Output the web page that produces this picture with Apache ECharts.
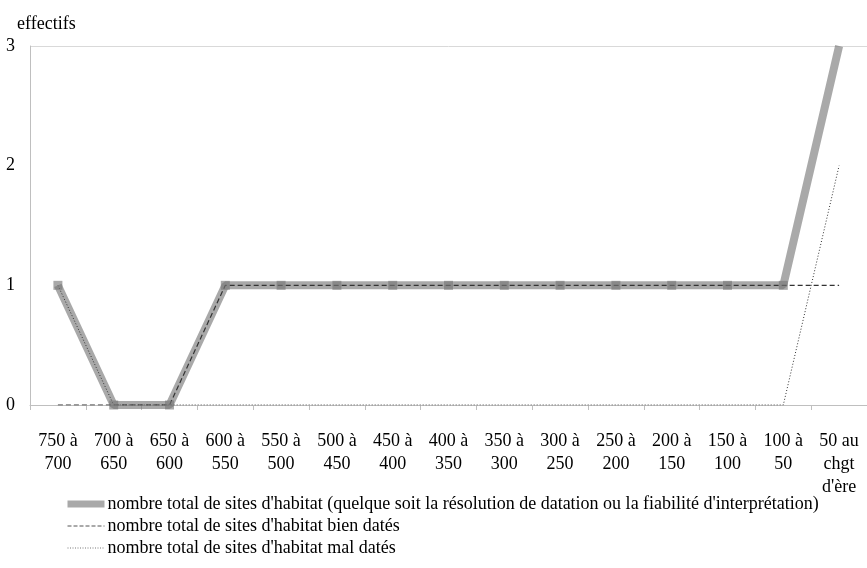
<!DOCTYPE html>
<html><head><meta charset="utf-8">
<script src="https://cdn.jsdelivr.net/npm/echarts@6/dist/echarts.min.js"></script>
<style>html,body{margin:0;padding:0;background:#fff}#c{width:867px;height:568px}</style>
</head><body><div id="c"></div>
<script>
const categories = ["750 à\n700","700 à\n650","650 à\n600","600 à\n550","550 à\n500","500 à\n450","450 à\n400","400 à\n350","350 à\n300","300 à\n250","250 à\n200","200 à\n150","150 à\n100","100 à\n50","50 au\nchgt\nd'ère"];
const totalSites = [1,0,0,1,1,1,1,1,1,1,1,1,1,1,3];
const bienDates = [0,0,0,1,1,1,1,1,1,1,1,1,1,1,1];
const malDates = [1,0,0,0,0,0,0,0,0,0,0,0,0,0,2];
const names = [
  "nombre total de sites d'habitat (quelque soit la résolution de datation ou la fiabilité d'interprétation)",
  "nombre total de sites d'habitat bien datés",
  "nombre total de sites d'habitat mal datés"
];
const font = "'Liberation Serif', 'Times New Roman', serif";
const grey = 'rgba(120,120,120,0.64)';
const chart = echarts.init(document.getElementById('c'), null, {renderer:'canvas'});
chart.setOption({
  animation:false,
  textStyle:{fontFamily:font, color:'#000'},
  grid:{left:30, top:46, width:846, height:359, containLabel:false},
  title:{text:'effectifs', left:12, top:10, textStyle:{fontFamily:font, fontSize:18, fontWeight:'normal', color:'#000'}},
  legend:{
    orient:'vertical', left:59, top:490, itemGap:4, itemWidth:37, itemHeight:18,
    textStyle:{fontFamily:font, fontSize:18, color:'#000', padding:[0,0,0,-2]},
    data:[
      {name:names[0], itemStyle:{opacity:0}, lineStyle:{width:7, color:'#a9a9a9'}},
      {name:names[1], itemStyle:{opacity:0}, lineStyle:{width:1, color:'#555', type:[4,2]}},
      {name:names[2], itemStyle:{opacity:0}, lineStyle:{width:1, color:'#777', type:[1,1.5]}}
    ]
  },
  xAxis:{
    type:'category', data:categories, boundaryGap:true,
    axisLine:{lineStyle:{color:'#bfbfbf', width:1}},
    axisTick:{show:true, length:5, lineStyle:{color:'#bfbfbf'}},
    axisLabel:{fontFamily:font, fontSize:18, color:'#000', lineHeight:23, margin:25, interval:0}
  },
  yAxis:{
    type:'value', min:0, max:3, interval:1,
    axisLine:{show:true, lineStyle:{color:'#bfbfbf'}},
    axisTick:{show:false},
    axisLabel:{fontFamily:font, fontSize:18, color:'#000', margin:15},
    splitLine:{show:true, lineStyle:{color:['transparent','transparent','transparent','#d9d9d9']}}
  },
  series:[
    {name:names[0], type:'line', symbol:'rect', symbolSize:9,
     data:totalSites.map((v,i)=> i===totalSites.length-1 ? {value:v, symbol:'none'} : v),
     lineStyle:{color:grey, width:8},
     itemStyle:{color:grey}},
    {name:names[1], type:'line', data:bienDates, symbol:'none',
     lineStyle:{color:'#333', width:1.2, type:[5,3]}, itemStyle:{color:'#333'}},
    {name:names[2], type:'line', data:malDates, symbol:'none',
     lineStyle:{color:'#333', width:1, type:[1,2]}, itemStyle:{color:'#333'}}
  ]
});
</script></body></html>
